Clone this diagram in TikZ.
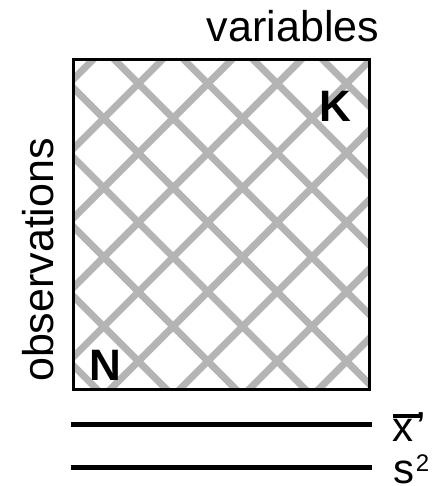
\documentclass[tikz,border=0pt]{standalone}
\usepackage{fontspec}
\setmainfont{Liberation Sans}
\definecolor{stripe}{RGB}{180,180,180}
\tikzset{
  hatch/.style={draw=stripe,line width=7pt},
  frame/.style={draw=black,line width=3pt},
  rowline/.style={draw=black,line width=4.5pt},
  lab/.style={inner sep=0pt,font=\fontsize{43}{50}\selectfont},
  corner/.style={inner sep=0pt,font=\fontsize{44}{50}\selectfont\bfseries},
  stat/.style={inner sep=0pt,anchor=base west,font=\fontsize{42}{50}\selectfont}
}
\begin{document}
\begin{tikzpicture}[x=1pt,y=-1pt]
\useasboundingbox (0,0) rectangle (436,486);
% box corners
\coordinate (tl) at (73.5,60);
\coordinate (br) at (369,389);
\begin{scope}
  \clip (tl) rectangle (br);
  \foreach \k in {-2,...,8}{
    \pgfmathsetmacro{\c}{222+69.4*\k}
    \draw[hatch] (\c,0) -- ({\c-500},500);
  }
  \foreach \k in {-5,...,5}{
    \pgfmathsetmacro{\d}{-14.6+69.4*\k}
    \draw[hatch] (\d,0) -- ({\d+500},500);
  }
\end{scope}
\draw[frame] (tl) rectangle (br);
% labels
\node[lab,anchor=base] (var) at (293,41.7) {variables};
\node[lab,anchor=base,rotate=90] (obs) at (53.3,260) {observations};
\node[corner,anchor=base] (K) at (335,121.7) {K};
\node[corner,anchor=base] (N) at (105,380) {N};
% statistic rows
\coordinate (l1a) at (71,424.3);
\coordinate (l1b) at (371.7,424.3);
\coordinate (l2a) at (71,467.5);
\coordinate (l2b) at (371.7,467.5);
\draw[rowline] (l1a) -- (l1b);
\draw[rowline] (l2a) -- (l2b);
\node[stat] (xbar) at (392.5,441.7) {x\kern3pt'};
\draw[line width=3.3pt] (393.3,416) -- (421.7,416);
\node[stat] (s2) at (393.7,483) {s\kern1pt\raisebox{12pt}{\fontsize{24}{28}\selectfont 2}};
\end{tikzpicture}
\end{document}
